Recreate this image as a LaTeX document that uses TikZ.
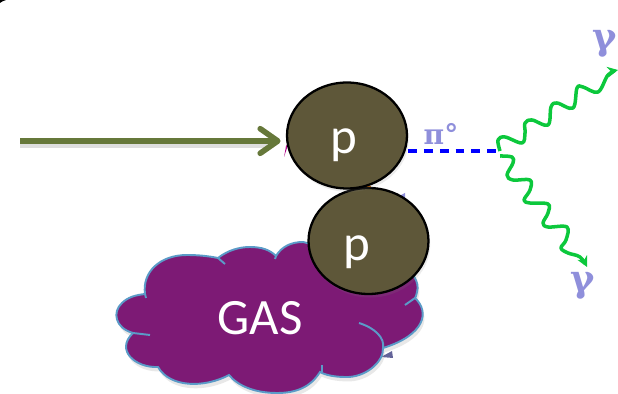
\documentclass[tikz,border=0pt]{standalone}
\usepackage{fontspec}
\setmainfont{Carlito}
\newfontfamily\greekfont{DejaVu Serif}
\usetikzlibrary{arrows.meta,shapes.geometric,shadows,backgrounds}
\definecolor{protonfill}{HTML}{5E5739}
\definecolor{beamgreen}{HTML}{66783A}
\definecolor{gaspurple}{HTML}{7D1A75}
\definecolor{gasedge}{HTML}{5B9BC8}
\definecolor{photongreen}{HTML}{0CC83C}
\definecolor{lilac}{HTML}{8F8FDB}
\tikzset{
	proton/.style={ellipse,draw=black,line width=1.3pt,fill=protonfill,inner sep=0pt,
		minimum width=2.4cm,minimum height=2.12cm,
		drop shadow={shadow xshift=1pt,shadow yshift=-2pt,opacity=.15}},
	whitetext/.style={anchor=base,text=white,inner sep=0pt,font=\fontsize{29}{29}\selectfont},
	gasedgeline/.style={gasedge,line width=1.1pt},
	beam/.style={draw=beamgreen,line width=3.2pt,-{Straight Barb[length=10pt,width=14pt,round]},shorten >=3pt},
	photon/.style={draw=photongreen,line width=2pt,line join=round,-{Stealth[length=6pt,width=6pt]}},
	greeklabel/.style={text=lilac,font=\greekfont\bfseries\fontsize{21}{21}\selectfont,inner sep=0pt},
}
\begin{document}
\begin{tikzpicture}[x=0.02cm,y=-0.02cm]
	\useasboundingbox (0,0) rectangle (618,394);
	% corner scrap
	\fill [black] (0,0) -- (6,0) .. controls (3,1) and (1,2) .. (0,3) -- cycle;
	% gas cloud
	\draw [gasedgeline,fill=gaspurple,drop shadow={shadow xshift=1pt,shadow yshift=-2.5pt,opacity=.18}]
		(145,294) .. controls (142,272) and (160,255) .. (187,255)
		.. controls (198,255) and (208,256) .. (218,258)
		.. controls (228,250) and (240,247) .. (250,247)
		.. controls (262,247) and (270,250) .. (276,256)
		.. controls (282,246) and (292,242) .. (303,242)
		-- (400,265) .. controls (412,270) and (420,282) .. (417,292)
		.. controls (416,296) and (416,297) .. (415,298)
		.. controls (430,312) and (425,335) .. (383,348)
		.. controls (384,362) and (365,378) .. (345,377)
		.. controls (335,377) and (325,375) .. (320,372)
		.. controls (310,388) and (295,393) .. (277,393)
		.. controls (255,393) and (238,386) .. (229,375)
		.. controls (205,388) and (170,388) .. (158,367)
		.. controls (135,368) and (115,350) .. (133,333)
		.. controls (115,328) and (112,312) .. (122,303)
		.. controls (128,297) and (136,295) .. (145,294) -- cycle;
	\draw [gasedgeline] (145,294) -- (146,298);
	\draw [gasedgeline] (133,333) -- (150,335);
	\draw [gasedgeline] (218,258) -- (225,264);
	\draw [gasedgeline] (276,256) -- (275,259);
	\draw [gasedgeline] (415,298) -- (405,305);
	\draw [gasedgeline] (322,372) -- (322,365);
	\draw [gasedgeline] (359,323) .. controls (375,328) and (385,338) .. (383,348);
	\node [whitetext] (gas) at (260,335) {GAS};
	% the two protons
	\node [proton] (ptarget) at (368.5,241) {};
	\node [proton] (pbeam) at (347,135.5) {};
	\node [whitetext] (ptargetname) at (357,261) {p};
	\node [whitetext] (pbeamname) at (344,154) {p};
	% free ends
	\coordinate (beamstart) at (20,141);
	\coordinate (vertex) at (500,151);
	\coordinate (upend) at (618,70);
	\coordinate (downend) at (587,267);
	\node [greeklabel,font=\greekfont\bfseries\fontsize{16}{16}\selectfont] (pizero) at (441,134) {π°};
	\node [greeklabel] (gammaup) at (605,44) {γ};
	\node [greeklabel] (gammadown) at (583,286) {γ};
	\begin{scope}[on background layer]
		\draw [black,opacity=.13,line width=3.2pt] (20,145) -- (272,145);
		\draw [beam] (beamstart) -- (pbeam.west |- beamstart);
		\draw [blue,line width=1.9pt,dash pattern=on 5pt off 4pt] (pbeam.east |- vertex) -- (vertex);
		\draw [photon] plot [smooth,tension=0.6] coordinates {(vertex) (498,140) (505,137) (522,143) (525,133) (525,123) (532,120) (548,125) (551,107) (557,103) (573,108) (577,88) (583,87) (598,92) (608,75) (upend)};
		\draw [photon] plot [smooth,tension=0.6] coordinates {(500,156) (512,157) (513,163) (507,175) (513,180) (530,180) (530,190) (524,200) (530,203) (548,204) (548,213) (543,223) (548,227) (567,227) (566,240) (561,248) (568,253) (580,257) (downend)};
		% scraps showing from behind the protons
		\fill [magenta!70!blue] (284,157) -- (286,146) -- (289,142) -- cycle;
		\fill [orange!80!black] (366,186) rectangle (371,189);
		\fill [lilac] (399,196) -- (405,193) -- (405,200) -- cycle;
		\fill [lilac!70!black] (381,357) -- (392,351) -- (393,358) -- cycle;
	\end{scope}
\end{tikzpicture}
\end{document}
